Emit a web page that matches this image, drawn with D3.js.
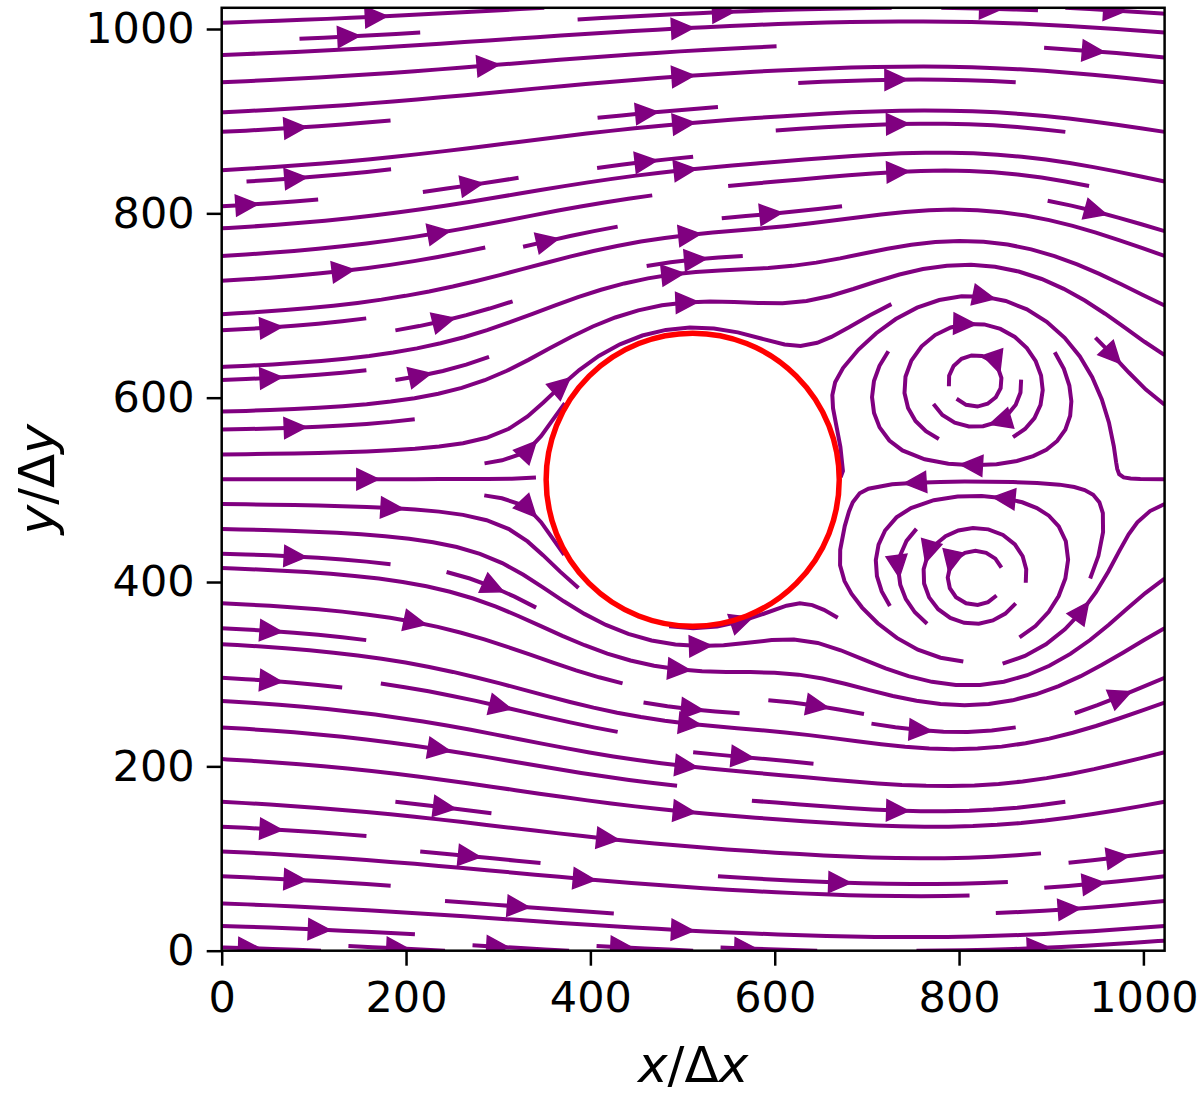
<!DOCTYPE html>
<html>
<head>
<meta charset="utf-8">
<script src="https://cdn.jsdelivr.net/npm/d3@7"></script>
<style>
  body { margin: 0; background: #fff; }
  svg { display: block; }
</style>
</head>
<body>
<svg id="chart" width="1200" height="1095"></svg>
<script>
// values
const xTicks = [0, 200, 400, 600, 800, 1000];
const yTicks = [0, 200, 400, 600, 800, 1000];
const gridNodes = 1024;                 // lattice nodes per side, 0..1023
const cylinderCenter = [511, 511];
const cylinderRadius = 159;
const vortexX = [818, 818];
const vortexY = [619, 403];
const vortexStrength = [-165, 165];     // circulation / 2pi (upper clockwise, lower counter-clockwise)
const inflowSpeed = 1;
const channelWalls = [-150, 1172];

const margin = { left: 221.7, top: 7.8, right: 35.4, bottom: 144.3 };
const width = 1200 - margin.left - margin.right;
const height = 1095 - margin.top - margin.bottom;

const x = d3.scaleLinear().domain([0, gridNodes - 1]).range([0, width]);
const y = d3.scaleLinear().domain([0, gridNodes - 1]).range([height, 0]);

// --- little complex helpers
const cadd = (a, b) => [a[0] + b[0], a[1] + b[1]];
const cmul = (a, b) => [a[0] * b[0] - a[1] * b[1], a[0] * b[1] + a[1] * b[0]];
const cdiv = (a, b) => {
  const d = b[0] * b[0] + b[1] * b[1];
  return [(a[0] * b[0] + a[1] * b[1]) / d, (a[1] * b[0] - a[0] * b[1]) / d];
};
const csinh = z => [Math.sinh(z[0]) * Math.cos(z[1]), Math.cosh(z[0]) * Math.sin(z[1])];
const ccosh = z => [Math.cosh(z[0]) * Math.cos(z[1]), Math.sinh(z[0]) * Math.sin(z[1])];
const ccoth = z => cdiv(ccosh(z), csinh(z));

// flow past the cylinder in a channel with the attached vortex pair
const L = channelWalls[1] - channelWalls[0];
const kD = Math.PI / L, kV = Math.PI / (2 * L);
const [cx, cy] = cylinderCenter;
const a = cylinderRadius;

// vortices plus their mirror images inside the cylinder
const vortices = [];
vortexX.forEach((vx, i) => {
  const rx = vx - cx, ry = vortexY[i] - cy, r2 = rx * rx + ry * ry;
  vortices.push({ x: vx, y: vortexY[i], g: vortexStrength[i] });
  vortices.push({ x: cx + a * a * rx / r2, y: cy + a * a * ry / r2, g: -vortexStrength[i] });
});

function velocity(px, py) {
  const dx = px - cx, dy = py - cy;
  if (dx * dx + dy * dy < a * a) return null;
  let dw = [inflowSpeed, 0];
  const s = csinh([kD * dx, kD * dy]);
  dw = cadd(dw, cdiv([-inflowSpeed * a * a * kD * kD, 0], cmul(s, s)));
  const zb = [px, py - channelWalls[0]];
  vortices.forEach(v => {
    const yv = v.y - channelWalls[0];
    const c1 = ccoth([kV * (zb[0] - v.x), kV * (zb[1] - yv)]);
    const c2 = ccoth([kV * (zb[0] - v.x), kV * (zb[1] + yv)]);
    const d = [c1[0] - c2[0], c1[1] - c2[1]];
    dw = cadd(dw, [v.g * kV * d[1], -v.g * kV * d[0]]);
  });
  return [dw[0], -dw[1]];
}

// streamline tracing in the manner of matplotlib's streamplot
function streamplot(field, n, density) {
  const NX = n, NY = n;
  const MX = Math.floor(30 * density), MY = MX;
  const mask = new Uint8Array(MX * MY);
  const g2mx = (MX - 1) / (NX - 1), g2my = (MY - 1) / (NY - 1);
  const OUT = 1, TERM = 2, INVALID = 3;
  let traj = [], cur = null;
  const within = (xi, yi) => xi >= 0 && xi <= NX - 1 && yi >= 0 && yi <= NY - 1;

  function mark(xg, yg) {
    const xm = Math.round(xg * g2mx), ym = Math.round(yg * g2my);
    if (!cur || cur[0] !== xm || cur[1] !== ym) {
      const k = ym * MX + xm;
      if (mask[k] === 0) { traj.push(k); mask[k] = 1; cur = [xm, ym]; }
      else throw INVALID;
    }
  }

  function f(xi, yi, sign) {
    if (!within(xi, yi)) throw OUT;
    const vel = field(xi, yi);
    if (!vel) throw TERM;
    const sp = Math.hypot(vel[0] / (NX - 1), vel[1] / (NY - 1));
    if (!(sp > 0)) throw TERM;
    return [sign * vel[0] / sp, sign * vel[1] / sp];
  }

  const maxerror = 0.003, maxds = Math.min(1 / MX, 1 / MY, 0.1);
  const maxlength = 4, minlength = 0.1;

  function rk12(x0, y0, sign) {
    let ds = maxds, stotal = 0, xi = x0, yi = y0;
    const pts = [];
    while (true) {
      let k1, k2;
      try {
        if (within(xi, yi)) pts.push([xi, yi]); else throw OUT;
        k1 = f(xi, yi, sign);
        k2 = f(xi + ds * k1[0], yi + ds * k1[1], sign);
      } catch (e) {
        if (e === OUT && pts.length) {
          const [xl, yl] = pts[pts.length - 1];
          let c;
          try { c = f(xl, yl, sign); } catch (e2) { break; }
          const dsx = c[0] === 0 ? Infinity : c[0] < 0 ? xl / -c[0] : (NX - 1 - xl) / c[0];
          const dsy = c[1] === 0 ? Infinity : c[1] < 0 ? yl / -c[1] : (NY - 1 - yl) / c[1];
          const d = Math.min(dsx, dsy);
          pts.push([xl + c[0] * d, yl + c[1] * d]);
          stotal += d;
        }
        break;
      }
      const dx1 = ds * k1[0], dy1 = ds * k1[1];
      const dx2 = ds * 0.5 * (k1[0] + k2[0]), dy2 = ds * 0.5 * (k1[1] + k2[1]);
      const error = Math.hypot((dx2 - dx1) / (NX - 1), (dy2 - dy1) / (NY - 1));
      if (error < maxerror) {
        xi += dx2; yi += dy2;
        try {
          if (!within(xi, yi)) throw INVALID;
          mark(xi, yi);
        } catch (e) { break; }
        if (stotal + ds > maxlength) break;
        stotal += ds;
      }
      ds = error === 0 ? maxds : Math.min(maxds, 0.85 * ds * Math.sqrt(maxerror / error));
    }
    return [stotal, pts];
  }

  function integrate(x0, y0) {
    traj = [];
    try { mark(x0, y0); } catch (e) { return null; }
    const [sb, tb] = rk12(x0, y0, -1);
    cur = [Math.round(x0 * g2mx), Math.round(y0 * g2my)];
    const [sf, tf] = rk12(x0, y0, 1);
    if (sb + sf > minlength) return tb.reverse().concat(tf.slice(1));
    traj.forEach(k => { mask[k] = 0; });
    return null;
  }

  // spiral of seed points from the border inwards
  const seeds = [];
  let xf = 0, yf = 1, xl = MX - 1, yl = MY - 1, sx = 0, sy = 0, dir = "right";
  for (let i = 0; i < MX * MY; i++) {
    seeds.push([sx, sy]);
    if (dir === "right") { sx += 1; if (sx >= xl) { xl -= 1; dir = "up"; } }
    else if (dir === "up") { sy += 1; if (sy >= yl) { yl -= 1; dir = "left"; } }
    else if (dir === "left") { sx -= 1; if (sx <= xf) { xf += 1; dir = "down"; } }
    else { sy -= 1; if (sy <= yf) { yf += 1; dir = "right"; } }
  }

  const lines = [];
  seeds.forEach(([xm, ym]) => {
    if (mask[ym * MX + xm] === 0) {
      const t = integrate(xm / g2mx, ym / g2my);
      if (t) lines.push(t);
    }
  });
  return lines;
}

const streamlines = streamplot(velocity, gridNodes, 1.3);

// --- drawing
const svg = d3.select("#chart");
const g = svg.append("g").attr("transform", `translate(${margin.left},${margin.top})`);

svg.append("defs").append("clipPath").attr("id", "plot-clip")
  .append("rect").attr("width", width).attr("height", height);

const plot = g.append("g").attr("clip-path", "url(#plot-clip)");
const purple = "#800080";

const line = d3.line().x(d => x(d[0])).y(d => y(d[1]));

plot.append("g")
  .selectAll("path")
  .data(streamlines)
  .join("path")
  .attr("d", line)
  .attr("fill", "none")
  .attr("stroke", purple)
  .attr("stroke-width", 4);

// arrow half way along each streamline
const arrows = streamlines.map(t => {
  let s = 0;
  const cum = [];
  for (let i = 1; i < t.length; i++) {
    s += Math.hypot(t[i][0] - t[i - 1][0], t[i][1] - t[i - 1][1]);
    cum.push(s);
  }
  let n = cum.findIndex(v => v >= s / 2);
  if (n < 0) n = 0;
  n = Math.min(n, t.length - 2);
  const tail = [x(t[n][0]), y(t[n][1])];
  const head = [x((t[n][0] + t[n + 1][0]) / 2), y((t[n][1] + t[n + 1][1]) / 2)];
  const len = Math.hypot(head[0] - tail[0], head[1] - tail[1]) || 1;
  return { head, ux: (head[0] - tail[0]) / len, uy: (head[1] - tail[1]) / len };
});

const headLen = 22, headHalf = 10.5;
plot.append("g")
  .selectAll("path")
  .data(arrows)
  .join("path")
  .attr("d", d => {
    const bx = d.head[0] - d.ux * headLen, by = d.head[1] - d.uy * headLen;
    return `M${d.head[0]},${d.head[1]}L${bx - d.uy * headHalf},${by + d.ux * headHalf}` +
      `L${bx + d.uy * headHalf},${by - d.ux * headHalf}Z`;
  })
  .attr("fill", purple)
  .attr("stroke", purple)
  .attr("stroke-width", 1.5)
  .attr("stroke-linejoin", "miter");

// the cylinder
g.append("circle")
  .attr("cx", x(cx))
  .attr("cy", y(cy))
  .attr("r", x(a) - x(0))
  .attr("fill", "none")
  .attr("stroke", "#ff0000")
  .attr("stroke-width", 5.5);

// axes
const xAxis = d3.axisBottom(x).tickValues(xTicks).tickFormat(d3.format("d"))
  .tickSize(15).tickPadding(16).tickSizeOuter(0);
const yAxis = d3.axisLeft(y).tickValues(yTicks).tickFormat(d3.format("d"))
  .tickSize(15).tickPadding(12).tickSizeOuter(0);

g.append("g").attr("transform", `translate(0,${height})`).call(xAxis)
  .call(s => s.select(".domain").remove());
g.append("g").call(yAxis)
  .call(s => s.select(".domain").remove());

g.selectAll(".tick line").attr("stroke", "#000").attr("stroke-width", 2.5);
g.selectAll(".tick text")
  .attr("fill", "#000")
  .style("font-family", "'DejaVu Sans', sans-serif")
  .style("font-size", "43px");

g.append("rect")
  .attr("width", width)
  .attr("height", height)
  .attr("fill", "none")
  .attr("stroke", "#000")
  .attr("stroke-width", 2.5);

// axis labels
const xLabel = svg.append("text")
  .attr("x", margin.left + width / 2)
  .attr("y", 1082)
  .attr("text-anchor", "middle")
  .style("font-family", "'DejaVu Sans', sans-serif")
  .style("font-size", "50px");
xLabel.append("tspan").style("font-style", "italic").text("x");
xLabel.append("tspan").text("/Δ");
xLabel.append("tspan").style("font-style", "italic").text("x");

const yLabel = svg.append("text")
  .attr("transform", `translate(54,${margin.top + height / 2}) rotate(-90)`)
  .attr("text-anchor", "middle")
  .style("font-family", "'DejaVu Sans', sans-serif")
  .style("font-size", "50px");
yLabel.append("tspan").style("font-style", "italic").text("y");
yLabel.append("tspan").text("/Δ");
yLabel.append("tspan").style("font-style", "italic").text("y");
</script>
</body>
</html>
